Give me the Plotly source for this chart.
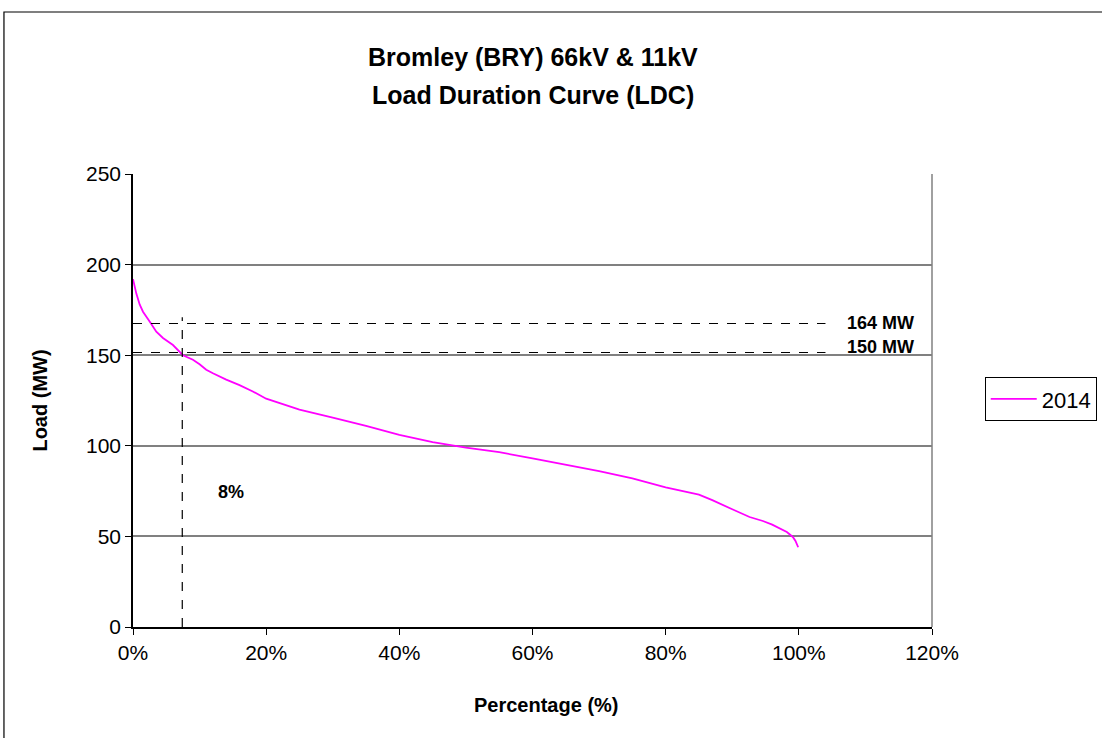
import plotly.graph_objects as go

pct = [0.0, 0.005, 0.01, 0.015, 0.026, 0.035, 0.045, 0.06, 0.075, 0.09, 0.10, 0.11, 0.12, 0.14, 0.16, 0.18, 0.20,
       0.25, 0.30, 0.35, 0.40, 0.45, 0.50, 0.55, 0.60, 0.65, 0.70, 0.75, 0.80, 0.85, 0.87, 0.90,
       0.926, 0.946, 0.96, 0.982, 0.991, 0.995, 0.999]
load = [192, 184, 178, 174, 168, 163, 159.5, 155.6, 150, 147.5, 145, 142, 140, 136.5, 133.5, 130, 126,
        120, 115.5, 111, 106, 102, 99, 96.5, 93, 89.5, 86, 82, 77, 73, 70, 65,
        60.7, 58.5, 56.5, 52.4, 49.7, 47.5, 44]

ref_lines = [167.5, 151.5]
ref_labels = ["164 MW", "150 MW"]
ref_label_y = [167.5, 154.5]
vline_x = 0.074
vline_top = 171
pct_label = "8%"
title_lines = ["Bromley (BRY) 66kV & 11kV", "Load Duration Curve (LDC)"]

fig = go.Figure()
fig.add_trace(go.Scatter(x=pct, y=load, mode="lines", name="2014",
                         line=dict(color="#FF00FF", width=1.8)))

for v, lab, ly in zip(ref_lines, ref_labels, ref_label_y):
    fig.add_shape(type="line", x0=0, x1=1.04, y0=v, y1=v, xref="x", yref="y",
                  line=dict(color="black", width=1.2, dash="dash"))
    fig.add_annotation(x=1.122, y=ly, text="<b>" + lab + "</b>", showarrow=False,
                       xref="x", yref="y", font=dict(size=18, color="black"))

fig.add_shape(type="line", x0=vline_x, x1=vline_x, y0=0, y1=vline_top, xref="x", yref="y",
              line=dict(color="black", width=1.2, dash="dash"))
fig.add_annotation(x=0.147, y=74.5, text="<b>" + pct_label + "</b>", showarrow=False,
                   xref="x", yref="y", font=dict(size=18, color="black"))

# title (two lines)
for ty, t in zip([1.258, 1.174], title_lines):
    fig.add_annotation(x=0.5, y=ty, xref="paper", yref="paper", text="<b>" + t + "</b>",
                       showarrow=False, xanchor="center", yanchor="middle",
                       font=dict(size=25, color="black"))
# x axis title
fig.add_annotation(x=0.517, y=-0.172, xref="paper", yref="paper", text="<b>Percentage (%)</b>",
                   showarrow=False, xanchor="center", yanchor="middle",
                   font=dict(size=20, color="black"))

# outer chart border
fig.add_shape(type="rect", xref="paper", yref="paper", x0=-0.1615, x1=1.3, y0=-0.4, y1=1.3576,
              line=dict(color="black", width=1.2), fillcolor="rgba(0,0,0,0)", layer="below")
# plot-area right border
fig.add_shape(type="line", xref="paper", yref="paper", x0=1, x1=1, y0=0, y1=1,
              line=dict(color="#808080", width=1.5))

fig.update_layout(
    width=1102, height=738,
    margin=dict(l=133, r=170, t=174, b=111, autoexpand=False),
    paper_bgcolor="white", plot_bgcolor="white",
    font=dict(family="Liberation Sans, Arial", size=21, color="black"),
    showlegend=True,
    legend=dict(x=1.066, y=0.503, xanchor="left", yanchor="middle",
                bordercolor="black", borderwidth=1, bgcolor="white",
                itemwidth=46, font=dict(size=22)),
    xaxis=dict(range=[0, 1.2], tickvals=[0, 0.2, 0.4, 0.6, 0.8, 1.0, 1.2],
               tickformat=".0%", showgrid=False, zeroline=False,
               showline=True, linecolor="black", linewidth=1.5,
               ticks="outside", ticklen=6, tickcolor="black"),
    yaxis=dict(range=[0, 250], tickvals=[0, 50, 100, 150, 200, 250],
               showgrid=True, gridcolor="#808080", gridwidth=1.5, zeroline=False,
               showline=True, linecolor="black", linewidth=1.5,
               ticks="outside", ticklen=6, tickcolor="black",
               title=dict(text="<b>Load (MW)</b>", font=dict(size=20), standoff=33)),
)

fig.write_html("out.html", config={"displayModeBar": False},
               post_script="document.body.style.margin='0';")
